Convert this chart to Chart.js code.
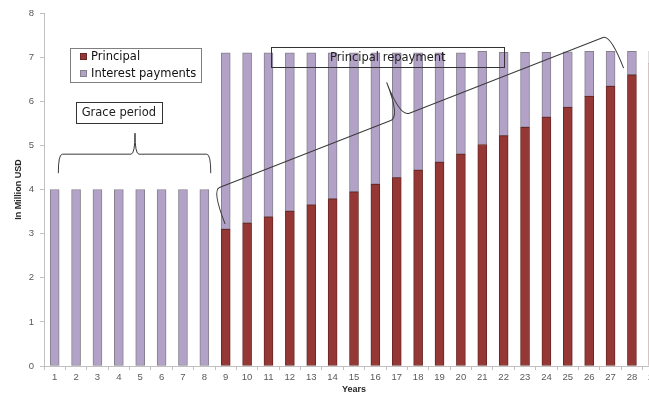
<!DOCTYPE html>
<html>
<head>
<meta charset="utf-8">
<script src="https://cdn.jsdelivr.net/npm/chart.js@4"></script>
<style>
  html, body { margin:0; padding:0; background:#fff; overflow:hidden; }
  #wrap { width:649px; height:396px; overflow:hidden; position:relative; }
  canvas { display:block; }
</style>
</head>
<body>
<div id="wrap"><canvas id="chart" width="672" height="396"></canvas></div>
<script>
// data (million USD)
const years = ['1','2','3','4','5','6','7','8','9','10','11','12','13','14','15','16','17','18','19','20','21','22','23','24','25','26','27','28','29'];
const principal = [null,null,null,null,null,null,null,null,3.10,3.24,3.38,3.51,3.65,3.79,3.95,4.12,4.27,4.44,4.62,4.80,5.02,5.22,5.41,5.64,5.86,6.11,6.34,6.60,6.86];
const interest  = [4.00,4.00,4.00,4.00,4.00,4.00,4.00,4.00,4.00,3.86,3.72,3.59,3.45,3.31,3.15,2.98,2.83,2.66,2.48,2.30,2.11,1.89,1.70,1.47,1.26,1.02,0.79,0.53,0.27];
const yMin = 0, yMax = 8, yStep = 1;

// annotation anchors in data units (x = category index, y = value)
const legendBox = {x0:0.72, x1:6.85, y0:7.21, y1:6.44};
const graceBox  = {x0:0.98, x1:5.02, y0:5.99, y1:5.52, text:'Grace period'};
const repayBox  = {x0:10.12, x1:21.04, y0:7.22, y1:6.77, text:'Principal repayment'};
const graceBrace = {a:[0.17,4.37], b:[7.30,4.37], h1:19, h2:21, tip:0.503, r1:4, r2:4};
const repayBrace = {a:[7.97,3.22], b:[26.61,6.75], h1:36, h2:37, tip:0.472, r1:8, r2:10};

const RED = '#953735', LILAC = '#B3A2C7';
const annoFont = '11.5px "DejaVu Sans"';

function brace(ctx, p1, p2, o){
  const L = Math.hypot(p2[0]-p1[0], p2[1]-p1[1]);
  const s = L*o.tip;
  ctx.save();
  ctx.translate(p1[0], p1[1]);
  ctx.rotate(Math.atan2(p2[1]-p1[1], p2[0]-p1[0]));
  ctx.beginPath();
  ctx.moveTo(0,0);
  ctx.quadraticCurveTo(0,-o.h1, o.r1,-o.h1);
  ctx.lineTo(s-o.r2,-o.h1);
  ctx.quadraticCurveTo(s,-o.h1, s,-o.h1-o.h2);
  ctx.quadraticCurveTo(s,-o.h1, s+o.r2,-o.h1);
  ctx.lineTo(L-o.r1,-o.h1);
  ctx.quadraticCurveTo(L,-o.h1, L,0);
  ctx.stroke();
  ctx.restore();
}

const annotations = {
  id:'annotations',
  afterDatasetsDraw(chart){
    const {ctx} = chart;
    const xs = chart.scales.x, ys = chart.scales.y;
    const P = (i,v) => [xs.getPixelForValue(i), ys.getPixelForValue(v)];
    const rect = b => { const [l,t] = P(b.x0,b.y0), [r,btm] = P(b.x1,b.y1); return {l,t,r,b:btm}; };
    ctx.save();
    ctx.lineWidth = 1;

    // legend
    const lg = rect(legendBox);
    ctx.fillStyle = '#fff';
    ctx.fillRect(lg.l, lg.t, lg.r-lg.l, lg.b-lg.t);
    ctx.strokeStyle = '#7f7f7f';
    ctx.strokeRect(Math.round(lg.l)+0.5, Math.round(lg.t)+0.5, Math.round(lg.r-lg.l), Math.round(lg.b-lg.t));
    const rowH = (lg.b-lg.t)/2;
    chart.data.datasets.forEach((ds,k) => {
      const cy = lg.t + rowH*(k+0.5);
      ctx.fillStyle = ds.backgroundColor;
      ctx.fillRect(Math.round(lg.l)+10, Math.round(cy)-3, 7, 7);
      ctx.strokeStyle = ds.borderColor;
      ctx.strokeRect(Math.round(lg.l)+10.5, Math.round(cy)-2.5, 6, 6);
      ctx.fillStyle = '#111';
      ctx.font = annoFont;
      ctx.textAlign = 'left';
      ctx.textBaseline = 'middle';
      ctx.fillText(ds.label, lg.l+21, cy+0.5);
    });

    // text boxes
    [[graceBox,true],[repayBox,false]].forEach(([bx,fill]) => {
      const r = rect(bx);
      if (fill){ ctx.fillStyle = '#fff'; ctx.fillRect(r.l, r.t, r.r-r.l, r.b-r.t); }
      ctx.strokeStyle = '#333';
      ctx.strokeRect(Math.round(r.l)+0.5, Math.round(r.t)+0.5, Math.round(r.r-r.l), Math.round(r.b-r.t));
      ctx.fillStyle = '#222';
      ctx.font = annoFont;
      ctx.textAlign = 'center';
      ctx.textBaseline = 'middle';
      ctx.fillText(bx.text, (r.l+r.r)/2, (r.t+r.b)/2+1);
    });

    // braces
    ctx.strokeStyle = '#3a3a3a';
    [graceBrace, repayBrace].forEach(br => brace(ctx, P(...br.a), P(...br.b), br));
    ctx.restore();
  }
};

new Chart(document.getElementById('chart').getContext('2d'), {
  type:'bar',
  data:{
    labels: years,
    datasets:[
      {label:'Principal', data:principal, backgroundColor:RED, borderColor:'#6a2725', borderWidth:1, borderSkipped:false},
      {label:'Interest payments', data:interest, backgroundColor:LILAC, borderColor:'#85808c', borderWidth:1, borderSkipped:false}
    ]
  },
  options:{
    responsive:false,
    animation:false,
    devicePixelRatio:1,
    layout:{padding:{left:0, top:13, right:8, bottom:0}},
    datasets:{bar:{barThickness:9}},
    plugins:{legend:{display:false}, tooltip:{enabled:false}},
    scales:{
      x:{
        stacked:true,
        grid:{drawOnChartArea:false, drawTicks:true, tickLength:4, color:'#c0c0c0', offset:true},
        border:{color:'#c0c0c0'},
        ticks:{color:'#595959', font:{family:'"Liberation Sans"', size:9.5}, padding:2, maxRotation:0, autoSkip:false},
        title:{display:true, text:'Years', color:'#262626', font:{family:'"Liberation Sans"', size:9, weight:'bold'}, padding:{top:0, bottom:0.6}},
        afterFit(s){ s.height = 30; }
      },
      y:{
        stacked:true,
        min:yMin, max:yMax,
        ticks:{stepSize:yStep, color:'#595959', font:{family:'"Liberation Sans"', size:9.5}, padding:6},
        grid:{drawOnChartArea:false, drawTicks:true, tickLength:4, color:'#c0c0c0'},
        border:{color:'#c0c0c0'},
        title:{display:true, text:'In Million USD', color:'#262626', font:{family:'"Liberation Sans"', size:9, weight:'bold'}, padding:{top:13.6, bottom:0}},
        afterFit(s){ s.width = 44; }
      }
    }
  },
  plugins:[annotations]
});
</script>
</body>
</html>
